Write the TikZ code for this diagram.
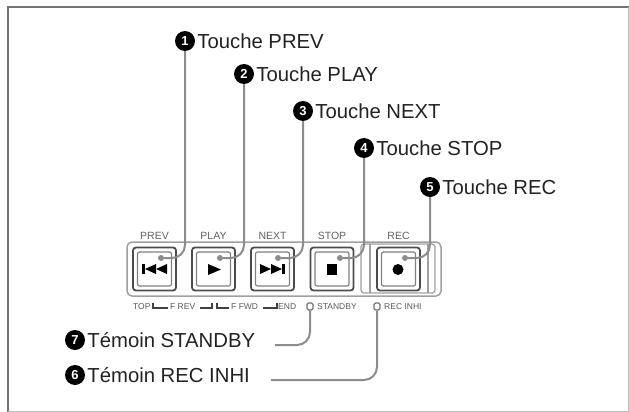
\documentclass[tikz,border=0pt]{standalone}
\usepackage{fontspec}
\setmainfont{Liberation Sans}
\usetikzlibrary{positioning}
\definecolor{inkgray}{HTML}{222222}
\definecolor{leadgray}{HTML}{8C8C8C}
\definecolor{panelgray}{HTML}{A0A0A0}
\tikzset{
    numdot/.style={circle, fill=black, text=white, inner sep=0pt, minimum size=20pt, font=\fontsize{13}{13}\bfseries\selectfont},
    callout/.style={text=inkgray, inner sep=0pt, font=\fontsize{20.3}{24}\selectfont, right=2pt of #1},
    leader/.style={draw=leadgray, line width=2pt, rounded corners=13pt},
    enddot/.style={circle, fill=leadgray, inner sep=0pt, minimum size=6pt},
    outerkey/.style={draw=black!70, line width=1.8pt, rounded corners=3pt, minimum size=43pt, inner sep=0pt},
    innerkey/.style={draw=black!50, line width=1.2pt, rounded corners=2pt, minimum size=34pt, inner sep=0pt},
    keylabel/.style={text=black!62, inner sep=0pt, font=\fontsize{10.5}{12}\selectfont},
    modelabel/.style={text=black!65, inner sep=0pt, font=\fontsize{8.5}{10}\selectfont},
    modeline/.style={draw=black!75, line width=1.4pt},
    ledmark/.style={draw=black!55, line width=1.2pt, rounded corners=1.5pt, minimum width=6pt, minimum height=7pt, inner sep=0pt}
}
\begin{document}
\begin{tikzpicture}[x=1pt, y=-1pt]
    \useasboundingbox (0,0) rectangle (629,412);

    % Frame
    \draw[black!55, line width=2pt] (8,412) -- (8,7) -- (629,7);
    \draw[black!25, line width=1pt] (628.5,7) -- (628.5,411.5) -- (8,411.5);

    % Panel
    \draw[panelgray, line width=1.5pt, rounded corners=5pt] (127,242) rectangle (441,296);
    \draw[panelgray, line width=1.2pt, rounded corners=3pt] (361,244) rectangle (435,293);
    \draw[panelgray, line width=1.2pt] (370,244) -- (370,293);
    \draw[panelgray, line width=1.2pt] (428,244) -- (428,293);

    % Keys
    \foreach \keyname/\keyx/\keytext in {prev/154.5/PREV, play/213.5/PLAY, next/272.5/NEXT, stop/332/STOP, rec/398.5/REC} {
        \node[outerkey] (\keyname) at (\keyx,269) {};
        \node[innerkey] at (\keyx,269) {};
        \node[keylabel] (\keyname label) at (\keyx,236) {\keytext};
    }

    % Key symbols
    \fill[black] (142,264) rectangle (145,274);
    \fill[black] (145,269) -- (156,264) -- (156,274) -- cycle;
    \fill[black] (156,269) -- (167,264) -- (167,274) -- cycle;
    \fill[black] (208,264) -- (221,269.5) -- (208,275) -- cycle;
    \fill[black] (260,264) -- (271,269) -- (260,274) -- cycle;
    \fill[black] (271,264) -- (282,269) -- (271,274) -- cycle;
    \fill[black] (282,264) rectangle (285,274);
    \fill[black] (327,264) rectangle (337,275);
    \fill[black] (398,269.5) circle (5.5);

    % Mode labels under the keys
    \node[modelabel, anchor=west] (top) at (133,306.5) {TOP};
    \node[modelabel, anchor=west] (frev) at (170,306.5) {F REV};
    \node[modelabel, anchor=west] (ffwd) at (231,306.5) {F FWD};
    \node[modelabel, anchor=west] (endlabel) at (278,306.5) {END};
    \node[modelabel, anchor=west] (standby) at (317,306.5) {STANDBY};
    \node[modelabel, anchor=west] (recinhi) at (384,306.5) {REC INHI};
    \draw[modeline] (153,303) -- (153,308) -- (168,308);
    \draw[modeline] (200,308) -- (212,308) -- (212,303);
    \draw[modeline] (217,303) -- (217,308) -- (229,308);
    \draw[modeline] (263,308) -- (277,308) -- (277,303);

    % Lamps
    \node[ledmark] (ledstandby) at (310,306.5) {};
    \node[ledmark] (ledrec) at (377,306.5) {};

    % Callouts above the panel
    \foreach \dotname/\dotnum/\dotx/\doty/\keytext/\endx in {a/1/185/41/PREV/161, b/2/244/74/PLAY/220, c/3/303/111/NEXT/278, d/4/364/148/STOP/340, e/5/430/187/REC/405} {
        \node[numdot] (num\dotname) at (\dotx,\doty) {\dotnum};
        \node[callout=num\dotname] (text\dotname) {Touche \keytext};
        \node[enddot] (end\dotname) at (\endx,258) {};
        \draw[leader] (num\dotname) |- (end\dotname);
    }

    % Callouts below the panel
    \node[numdot] (numg) at (75,340) {7};
    \node[callout=numg] (textg) {Témoin STANDBY};
    \node[numdot] (numf) at (75,375) {6};
    \node[callout=numf] (textf) {Témoin REC INHI};
    \coordinate (endg) at (275,345);
    \coordinate (endf) at (271,380);
    \draw[leader] (ledstandby) |- (endg);
    \draw[leader] (ledrec) |- (endf);
\end{tikzpicture}
\end{document}
